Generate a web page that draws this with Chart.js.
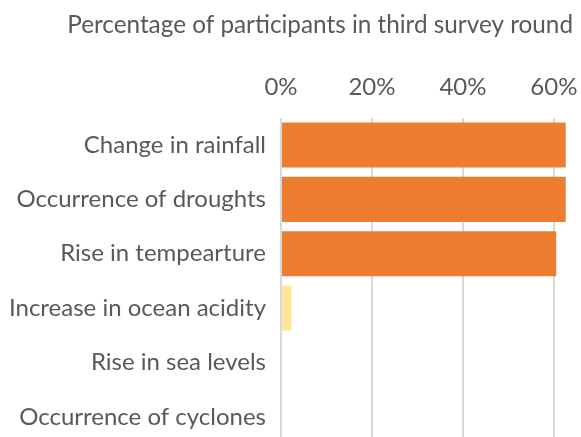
<!DOCTYPE html>
<html>
<head>
<meta charset="utf-8">
<script src="https://cdn.jsdelivr.net/npm/chart.js@4/dist/chart.umd.min.js"></script>
<style>
  html, body { margin: 0; padding: 0; background: #fff; overflow: hidden; }
  canvas { display: block; }
</style>
</head>
<body>
<canvas id="c" width="581" height="444"></canvas>
<script>
// Climate changes noticed, share of participants (%)
const categories = [
  'Change in rainfall',
  'Occurrence of droughts',
  'Rise in tempearture',
  'Increase in ocean acidity',
  'Rise in sea levels',
  'Occurrence of cyclones'
];
const shares = [62.6, 62.6, 60.5, 2.3, 0, 0];
const barColors = ['#ED7D31', '#ED7D31', '#ED7D31', '#FFE699', '#FFE699', '#FFE699'];
const tickValues = [0, 20, 40, 60];

const textColor = '#595959';
Chart.defaults.font.family = 'Lato, "Open Sans", sans-serif';
Chart.defaults.color = textColor;

// keep tick-label overhang from shrinking the plot area
function noOverhang(axis) {
  axis.paddingLeft = 0;
  axis.paddingRight = 0;
  axis.paddingTop = 0;
  axis.paddingBottom = 0;
}

new Chart(document.getElementById('c'), {
  type: 'bar',
  data: {
    labels: categories,
    datasets: [{
      data: shares,
      backgroundColor: barColors,
      borderWidth: 0,
      barPercentage: 0.83,
      categoryPercentage: 1
    }]
  },
  options: {
    indexAxis: 'y',
    responsive: false,
    animation: false,
    devicePixelRatio: 1,
    layout: { padding: { left: 0, right: 8, top: 0, bottom: 0 } },
    plugins: {
      legend: { display: false },
      tooltip: { enabled: false },
      title: {
        display: true,
        text: 'Percentage of participants in third survey round',
        align: 'end',
        color: textColor,
        font: { size: 24.3, weight: 'normal', lineHeight: 1.2 },
        padding: { top: 11, bottom: 0 }
      }
    },
    scales: {
      x: {
        position: 'top',
        min: 0,
        max: 64.2,
        afterBuildTicks: (axis) => {
          axis.ticks = tickValues.map(v => ({ value: v }));
        },
        afterFit: (axis) => { axis.height = 77.6; noOverhang(axis); },
        ticks: {
          padding: 16,
          color: textColor,
          font: { size: 24, lineHeight: 1.2 },
          callback: (v) => v + '%'
        },
        grid: { color: '#D9D9D9', lineWidth: 2, drawTicks: false },
        border: { display: false }
      },
      y: {
        afterFit: (axis) => { axis.width = 281; noOverhang(axis); },
        ticks: {
          padding: 7,
          color: textColor,
          font: { size: 24 }
        },
        grid: { display: false },
        border: { display: false }
      }
    }
  }
});
</script>
</body>
</html>
